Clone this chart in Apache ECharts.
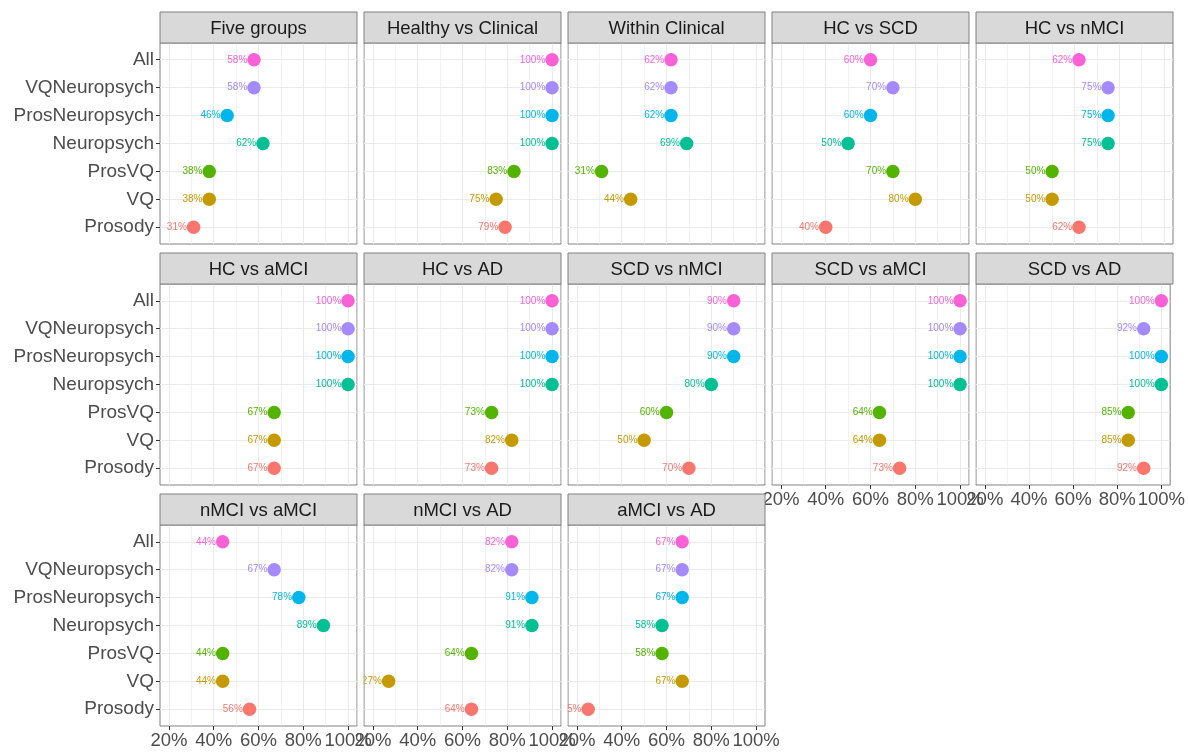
<!DOCTYPE html>
<html><head><meta charset="utf-8">
<script src="https://cdn.jsdelivr.net/npm/echarts@6/dist/echarts.min.js"></script>
<style>html,body{margin:0;padding:0;background:#fff}#c{width:1188px;height:754px}</style>
</head><body><div id="c"></div>
<script>
// ---- data ----
const categories = ['Prosody', 'VQ', 'ProsVQ', 'Neuropsych', 'ProsNeuropsych', 'VQNeuropsych', 'All'];
const panelTitles = ['Five groups', 'Healthy vs Clinical', 'Within Clinical', 'HC vs SCD', 'HC vs nMCI',
  'HC vs aMCI', 'HC vs AD', 'SCD vs nMCI', 'SCD vs aMCI', 'SCD vs AD',
  'nMCI vs aMCI', 'nMCI vs AD', 'aMCI vs AD'];
// values in category order: Prosody, VQ, ProsVQ, Neuropsych, ProsNeuropsych, VQNeuropsych, All
const fiveGroups       = [31, 38, 38, 62, 46, 58, 58];
const healthyClinical  = [79, 75, 83, 100, 100, 100, 100];
const withinClinical   = [null, 44, 31, 69, 62, 62, 62];
const hcSCD            = [40, 80, 70, 50, 60, 70, 60];
const hcNMCI           = [62, 50, 50, 75, 75, 75, 62];
const hcAMCI           = [67, 67, 67, 100, 100, 100, 100];
const hcAD             = [73, 82, 73, 100, 100, 100, 100];
const scdNMCI          = [70, 50, 60, 80, 90, 90, 90];
const scdAMCI          = [73, 64, 64, 100, 100, 100, 100];
const scdAD            = [92, 85, 85, 100, 100, 92, 100];
const nmciAMCI         = [56, 44, 44, 89, 78, 67, 44];
const nmciAD           = [64, 27, 64, 91, 91, 82, 82];
const amciAD           = [25, 67, 58, 58, 67, 67, 67];
const panelValues = [fiveGroups, healthyClinical, withinClinical, hcSCD, hcNMCI, hcAMCI, hcAD,
  scdNMCI, scdAMCI, scdAD, nmciAMCI, nmciAD, amciAD];
const xMajorTicks = [20, 40, 60, 80, 100];
const xMinorTicks = [30, 50, 70, 90];
const categoryIndex = [0, 1, 2, 3, 4, 5, 6];

// ---- style ----
const pointColors = ['#F8766D', '#C49A00', '#53B400', '#00C094', '#00B6EB', '#A58AFF', '#FB61D7'];
const FONT = 'Liberation Sans, Arial, sans-serif';
const borderCol = '#808080';
const gridCol = '#EBEBEB';

const colLeft0 = 160, colStep = 204, panelW = 197;
const rowTop0 = 12, rowStep = 241, stripH = 31, panelH = 201;

const grids = [], xAxes = [], yAxes = [], series = [], graphics = [];
panelTitles.forEach((title, i) => {
  const r = Math.floor(i / 5), c = i % 5;
  const left = colLeft0 + c * colStep, top = rowTop0 + r * rowStep;
  const showX = i + 5 >= panelTitles.length;
  const showY = c === 0;
  grids.push({left: left, top: top + stripH, width: panelW, height: panelH, show: true,
    backgroundColor: '#fff', borderColor: borderCol, borderWidth: 1, containLabel: false});
  // major x axis
  xAxes.push({type: 'value', gridIndex: i, min: 16, max: 104, position: 'bottom',
    axisLine: {show: false, onZero: false},
    axisTick: {show: showX, length: 4, customValues: xMajorTicks, lineStyle: {color: '#333'}},
    axisLabel: {show: showX, customValues: xMajorTicks, margin: 5, color: '#4D4D4D',
      fontSize: 18.5, fontFamily: FONT, formatter: v => v + '%'},
    splitLine: {show: true, lineStyle: {color: gridCol, width: 1.1}}});
  // minor x grid
  xAxes.push({type: 'value', gridIndex: i, min: 16, max: 104, position: 'bottom',
    axisLine: {show: false, onZero: false},
    axisTick: {show: false, customValues: xMinorTicks},
    axisLabel: {show: false},
    splitLine: {show: true, lineStyle: {color: gridCol, width: 0.7}}});
  yAxes.push({type: 'value', gridIndex: i, min: -0.6, max: 6.6,
    axisLine: {show: false, onZero: false},
    axisTick: {show: showY, length: 4, customValues: categoryIndex, lineStyle: {color: '#333'}},
    axisLabel: {show: showY, customValues: categoryIndex, margin: 6, color: '#4D4D4D',
      fontSize: 19, fontFamily: FONT, formatter: v => categories[Math.round(v)]},
    splitLine: {show: true, lineStyle: {color: gridCol, width: 1.1}}});
  const vals = panelValues[i];
  const data = [];
  categories.forEach((cat, k) => {
    if (vals[k] == null) return;
    data.push({value: [vals[k], k],
      itemStyle: {color: pointColors[k], opacity: 1},
      label: {color: pointColors[k]}});
  });
  series.push({type: 'scatter', xAxisIndex: 2 * i, yAxisIndex: i, symbol: 'circle', symbolSize: 13.5,
    data: data, z: 5, itemStyle: {opacity: 1},
    label: {show: true, position: 'left', distance: 0, fontSize: 10, fontFamily: FONT,
      formatter: p => p.value[0] + '%'}});
  // strip
  graphics.push({type: 'rect', shape: {x: left, y: top, width: panelW, height: stripH},
    style: {fill: '#D9D9D9', stroke: borderCol, lineWidth: 1}, z: 10});
  graphics.push({type: 'text', x: left + panelW / 2, y: top + stripH / 2 + 1,
    style: {text: title, align: 'center', verticalAlign: 'middle', fill: '#1A1A1A',
      font: '18.5px ' + FONT}, z: 11});
  // clip mask in the gap to the left of panels (emulates panel clipping of labels)
  if (c > 0) {
    graphics.push({type: 'rect', shape: {x: left - (colStep - panelW) + 0.6, y: top + stripH + 1,
      width: colStep - panelW - 1.2, height: panelH - 2},
      style: {fill: '#fff'}, z: 50});
  }
});

const chart = echarts.init(document.getElementById('c'));
chart.setOption({
  animation: false,
  backgroundColor: '#fff',
  grid: grids, xAxis: xAxes, yAxis: yAxes, series: series,
  graphic: graphics
});
</script></body></html>
